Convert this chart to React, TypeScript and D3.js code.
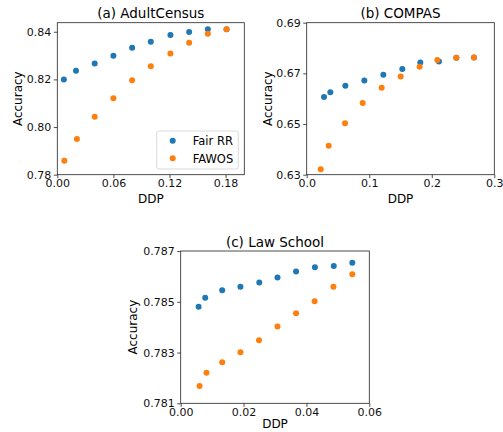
import { useEffect, useRef } from "react";
import * as d3 from "d3";

// (a) AdultCensus
const adultRRx = [0.007, 0.02, 0.04, 0.06, 0.08, 0.1, 0.121, 0.141, 0.161, 0.181];
const adultRRy = [0.82, 0.8236, 0.8267, 0.8299, 0.8333, 0.8358, 0.8386, 0.8399, 0.841, 0.841];
const adultFWx = [0.0075, 0.021, 0.04, 0.06, 0.08, 0.1, 0.121, 0.141, 0.161, 0.181];
const adultFWy = [0.7859, 0.795, 0.8043, 0.8121, 0.8196, 0.8255, 0.8309, 0.8354, 0.8392, 0.841];

// (b) COMPAS
const compasRRx = [0.0277, 0.0378, 0.0618, 0.0922, 0.1226, 0.1529, 0.1817, 0.2115, 0.2393, 0.2675];
const compasRRy = [0.6607, 0.6625, 0.6651, 0.6672, 0.6695, 0.6717, 0.6743, 0.6747, 0.6762, 0.6763];
const compasFWx = [0.0224, 0.0352, 0.0613, 0.0895, 0.1199, 0.1503, 0.1806, 0.2089, 0.2393, 0.2675];
const compasFWy = [0.6322, 0.6414, 0.6503, 0.6583, 0.6643, 0.6688, 0.6726, 0.6753, 0.6762, 0.6763];

// (c) Law School
const lawRRx = [0.0057, 0.0078, 0.0132, 0.019, 0.025, 0.0308, 0.0367, 0.0427, 0.0487, 0.0546];
const lawRRy = [0.7848, 0.78516, 0.78545, 0.78559, 0.78576, 0.78596, 0.78619, 0.78636, 0.78641, 0.78654];
const lawFWx = [0.006, 0.0082, 0.0132, 0.019, 0.0249, 0.0308, 0.0367, 0.0426, 0.0486, 0.0546];
const lawFWy = [0.78168, 0.7822, 0.78262, 0.78301, 0.78348, 0.78403, 0.78455, 0.78502, 0.78559, 0.78608];

const seriesNames = ["Fair RR", "FAWOS"];
const colors = ["#1f77b4", "#ff7f0e"];

const panels = [
  {
    title: "(a) AdultCensus",
    box: [57.3, 22.7, 244.3, 174.7],
    xDomain: [0, 0.2], yDomain: [0.78, 0.8438],
    xTicks: [0, 0.06, 0.12, 0.18], yTicks: [0.78, 0.8, 0.82, 0.84],
    xFmt: ".2f", yFmt: ".2f",
    series: [[adultRRx, adultRRy], [adultFWx, adultFWy]],
    legend: true, yLabOff: 35.6, xLabOff: 28,
  },
  {
    title: "(b) COMPAS",
    box: [306.7, 22.7, 494.3, 174.7],
    xDomain: [0, 0.3], yDomain: [0.63, 0.69],
    xTicks: [0, 0.1, 0.2, 0.3], yTicks: [0.63, 0.65, 0.67, 0.69],
    xFmt: ".1f", yFmt: ".2f",
    series: [[compasRRx, compasRRy], [compasFWx, compasFWy]],
    legend: false, yLabOff: 35, xLabOff: 28,
  },
  {
    title: "(c) Law School",
    box: [180.7, 251, 369.3, 403.3],
    xDomain: [0, 0.06], yDomain: [0.781, 0.787],
    xTicks: [0, 0.02, 0.04, 0.06], yTicks: [0.781, 0.783, 0.785, 0.787],
    xFmt: ".2f", yFmt: ".3f",
    series: [[lawRRx, lawRRy], [lawFWx, lawFWy]],
    legend: false, yLabOff: 43.4, xLabOff: 25,
  },
];

export default function App() {
  const svgRef = useRef<SVGSVGElement>(null);

  useEffect(() => {
    const svg = d3.select(svgRef.current);
    svg.selectAll("*").remove();
    const font = "DejaVu Sans, sans-serif";

    panels.forEach((p) => {
      const [x0, y0, x1, y1] = p.box;
      const x = d3.scaleLinear().domain(p.xDomain).range([x0, x1]);
      const y = d3.scaleLinear().domain(p.yDomain).range([y1, y0]);
      const g = svg.append("g");

      // points
      p.series.forEach(([xs, ys], si) => {
        g.append("g")
          .selectAll("circle")
          .data(xs.map((v, i) => [v, ys[i]]))
          .join("circle")
          .attr("cx", (d) => x(d[0]))
          .attr("cy", (d) => y(d[1]))
          .attr("r", 3)
          .attr("fill", colors[si]);
      });

      // frame
      g.append("rect")
        .attr("x", x0).attr("y", y0)
        .attr("width", x1 - x0).attr("height", y1 - y0)
        .attr("fill", "none").attr("stroke", "#222").attr("stroke-width", 0.8);

      const xa = g.append("g")
        .attr("transform", `translate(0,${y1})`)
        .call(d3.axisBottom(x).tickValues(p.xTicks).tickFormat(d3.format(p.xFmt)).tickSize(3.5).tickPadding(1.5));
      const ya = g.append("g")
        .attr("transform", `translate(${x0},0)`)
        .call(d3.axisLeft(y).tickValues(p.yTicks).tickFormat(d3.format(p.yFmt)).tickSize(3.5).tickPadding(2.5));
      [xa, ya].forEach((a) => {
        a.select(".domain").remove();
        a.selectAll("line").attr("stroke", "#222").attr("stroke-width", 0.8);
        a.selectAll("text").attr("font-family", font).attr("font-size", 11).attr("fill", "#111");
      });

      g.append("text")
        .attr("x", (x0 + x1) / 2).attr("y", y0 - 4.5)
        .attr("text-anchor", "middle")
        .attr("font-family", font).attr("font-size", 13.5)
        .text(p.title);
      g.append("text")
        .attr("x", (x0 + x1) / 2).attr("y", y1 + p.xLabOff)
        .attr("text-anchor", "middle")
        .attr("font-family", font).attr("font-size", 12)
        .text("DDP");
      g.append("text")
        .attr("transform", `translate(${x0 - p.yLabOff},${(y0 + y1) / 2}) rotate(-90)`)
        .attr("text-anchor", "middle")
        .attr("font-family", font).attr("font-size", 12)
        .text("Accuracy");

      if (p.legend) {
        const lg = g.append("g").attr("transform", `translate(${x1 - 87.6},${y1 - 43.7})`);
        lg.append("rect")
          .attr("width", 81.6).attr("height", 38).attr("rx", 2.5)
          .attr("fill", "white").attr("fill-opacity", 0.8)
          .attr("stroke", "#d0d0d0").attr("stroke-width", 0.8);
        seriesNames.forEach((name, i) => {
          lg.append("circle")
            .attr("cx", 16).attr("cy", 9.7 + i * 17.6).attr("r", 3)
            .attr("fill", colors[i]);
          lg.append("text")
            .attr("x", 36).attr("y", 9.7 + i * 17.6 + 4.3)
            .attr("font-family", font).attr("font-size", 11.5)
            .text(name);
        });
      }
    });
  }, []);

  return (
    <svg
      ref={svgRef}
      width={503}
      height={432}
      style={{ position: "absolute", left: 0, top: 0, background: "white" }}
    />
  );
}
